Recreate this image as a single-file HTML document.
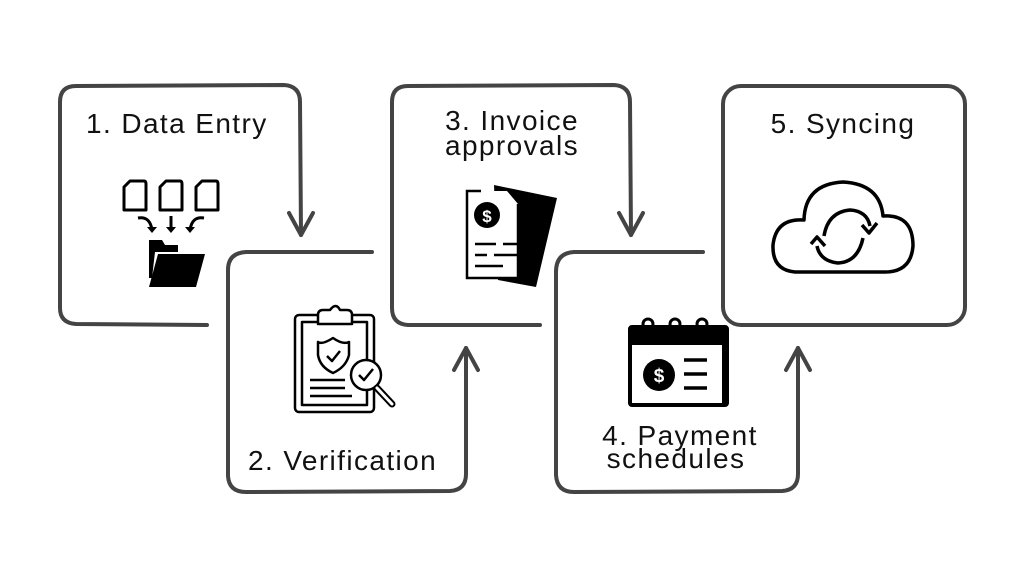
<!DOCTYPE html>
<html><head><meta charset="utf-8"><style>
html,body{margin:0;padding:0;background:#fff;}
svg{display:block}
text{font-family:"Liberation Sans",sans-serif;fill:#111;font-size:28px;letter-spacing:1.4px;}
</style></head><body>
<svg width="1024" height="576" viewBox="0 0 1024 576" xmlns="http://www.w3.org/2000/svg">
<g fill="none" stroke="#444" stroke-width="4" stroke-linecap="round" stroke-linejoin="round">
<path d="M207 325 L76 324 Q60 323 60 308 L60 102 Q60 86 76 86 L284 85 Q300 86 300 102 L301 235"/>
<path d="M289 213 L301 235 L313 213"/>
<path d="M372 252 L246 252 Q228 253 228 270 L228 476 Q229 492 246 492 L450 491 Q466 490 466 474 L466 348"/>
<path d="M454 370 L466 348 L478 370"/>
<path d="M540 325 L408 325 Q392 324 392 308 L392 102 Q392 86 408 86 L614 85 Q630 86 630 102 L631 235"/>
<path d="M619 213 L631 235 L643 213"/>
<path d="M703 252 L574 252 Q556 253 556 272 L556 475 Q557 492 574 492 L782 491 Q798 490 798 474 L798 348"/>
<path d="M786 370 L798 348 L810 370"/>
<rect x="723" y="86" width="242" height="239" rx="18"/>
</g>
<text x="86" y="133">1. Data Entry</text>
<text x="512" y="130" text-anchor="middle">3. Invoice</text>
<text x="512" y="155" text-anchor="middle">approvals</text>
<text x="843" y="133" text-anchor="middle">5. Syncing</text>
<text x="248" y="470">2. Verification</text>
<text x="680" y="445" text-anchor="middle">4. Payment</text>
<text x="676" y="468" text-anchor="middle">schedules</text>

<g fill="none" stroke="#000" stroke-width="3" stroke-linejoin="round">
<path d="M130 181 L144 181 Q146 181 146 184 L146 210 L124 210 L124 187 Z"/>
<path d="M166 181 L180 181 Q182 181 182 184 L182 210 L160 210 L160 187 Z"/>
<path d="M202 181 L216 181 Q218 181 218 184 L218 210 L196 210 L196 187 Z"/>
<path d="M138 218 Q150 216 152 230"/>
<path d="M171 216 L171 230"/>
<path d="M204 218 Q192 216 190 230"/>
</g>
<g fill="#000">
<path d="M147 227 L152 233 L157 227 Z"/><path d="M166 227 L171 233 L176 227 Z"/><path d="M185 227 L190 233 L195 227 Z"/>
<path d="M149 240 L162 240 L165 245 L178 245 L178 252 L155 252 L152 278 L149 278 Z"/>
<path d="M158 254 L205 254 L196 287 L149 287 Z"/>
</g>
<g>
<path d="M494 185 L557 198 L536 287 L498 280 Z" fill="#000"/>
<path d="M467 191 L507 191 L518 204 L518 278 L467 278 Z" fill="#fff"/>
<path d="M481 191 L467 191 L467 278 L518 278 L518 204" fill="none" stroke="#000" stroke-width="2.5"/>
<circle cx="487" cy="215" r="13" fill="#000"/>
<text x="487" y="222" text-anchor="middle" style="font-size:17px;fill:#fff;font-weight:bold;letter-spacing:0">$</text>
<g stroke="#000" stroke-width="2.5"><path d="M475 244 L496 244 M503 244 L526 244 M475 255 L487 255 M494 255 L526 255 M475 266 L503 266"/></g>
</g>
<g fill="none" stroke="#000" stroke-width="2.5" stroke-linejoin="round">
<rect x="295" y="315" width="79" height="97" rx="4"/>
<rect x="302" y="322" width="65" height="83"/>
<path d="M318 315 L318 324 L352 324 L352 315 Q352 310 347 310 L340 310 Q336 302 330 310 L323 310 Q318 310 318 315 Z" fill="#fff"/>
<path d="M333 338 Q322 345 318 342 L318 355 Q320 367 333 373 Q346 367 349 355 L349 342 Q343 345 333 338 Z"/>
<path d="M327 356 L332 361 L340 351"/>
<path d="M310 380 L345 380 M310 388 L345 388 M310 396 L352 396"/>
<circle cx="366" cy="375" r="15" fill="#fff"/>
<path d="M359 375 L364 380 L373 369"/>
<path d="M377 388 L392 404" stroke-width="7" stroke-linecap="round"/>
<path d="M377 388 L392 404" stroke="#fff" stroke-width="3" stroke-linecap="round"/>
</g>
<g>
<rect x="630" y="327" width="97" height="78" rx="2" fill="none" stroke="#000" stroke-width="4"/>
<rect x="630" y="327" width="97" height="18" fill="#000"/>
<rect x="722" y="327" width="6" height="78" fill="#000"/>
<g fill="none" stroke="#000" stroke-width="3"><circle cx="648" cy="324" r="5"/><circle cx="675" cy="324" r="5"/><circle cx="702" cy="324" r="5"/></g>
<circle cx="659" cy="375" r="16" fill="#000"/>
<text x="659" y="382" text-anchor="middle" style="font-size:19px;fill:#fff;font-weight:bold;letter-spacing:0">$</text>
<g stroke="#000" stroke-width="3.5"><path d="M684 360 L707 360 M684 374 L707 374 M684 388 L707 388"/></g>
</g>
<g fill="none" stroke="#000" stroke-width="3.5" stroke-linejoin="round">
<path d="M795 272 Q772 270 773 245 Q776 218 804 220 Q805 184 843 182 Q880 184 883 216 Q913 214 913 246 Q911 272 885 272 Z"/>
<path d="M824 236 Q828 212 850 210 Q867 211 870 226"/>
<path d="M863 238 Q858 262 838 263 Q820 261 817 246"/>
<path d="M862 225 L869 233 L877 223"/>
<path d="M811 244 L817 237 L825 246"/>
</g>
</svg>
</body></html>
